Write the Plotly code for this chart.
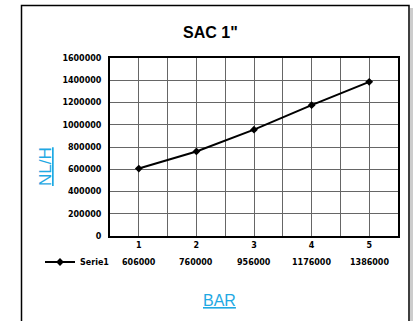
import plotly.graph_objects as go

# data
categories = [1, 2, 3, 4, 5]
serie1 = [606000, 760000, 956000, 1176000, 1386000]
series_name = "Serie1"
y_ticks = [0, 200000, 400000, 600000, 800000, 1000000, 1200000, 1400000, 1600000]

W, H = 419, 321
# plot area in window pixels: x 110..398, y 58..236
L, R, T, B = 110, W - 398, 58, H - 236
pw, ph = W - L - R, H - T - B

def px_x(x):
    return (x - L) / pw

def px_y(y):
    return (H - B - y) / ph

blue = "#1fa9e3"
font_family = "Liberation Sans, Arial, sans-serif"
small = dict(family="DejaVu Sans", size=8, weight="bold", color="black")

fig = go.Figure()
fig.add_trace(go.Scatter(
    x=categories, y=serie1, mode="lines+markers", name=series_name,
    line=dict(color="black", width=2),
    marker=dict(color="black", size=6, symbol="diamond"),
))

fig.update_layout(
    width=W, height=H,
    margin=dict(l=L, r=R, t=T, b=B, autoexpand=False),
    paper_bgcolor="white", plot_bgcolor="white",
    font=dict(family=font_family, color="black"),
    showlegend=True,
    legend=dict(x=px_x(40), y=px_y(262), xanchor="left", yanchor="middle",
                font=small, itemwidth=30,
                bgcolor="rgba(0,0,0,0)", tracegroupgap=0),
    xaxis=dict(range=[0.5, 5.5], tickvals=categories, showgrid=True,
               gridcolor="#666", gridwidth=1,
               minor=dict(tickvals=[0.5, 1.5, 2.5, 3.5, 4.5, 5.5], showgrid=True,
                          gridcolor="#666", gridwidth=1),
               showline=True, linecolor="black", linewidth=2, mirror=True,
               ticks="", tickfont=small, zeroline=False),
    yaxis=dict(range=[0, 1600000], tickvals=y_ticks, showgrid=True,
               gridcolor="#666", gridwidth=1,
               showline=True, linecolor="black", linewidth=2, mirror=True,
               ticks="", ticklabelstandoff=5,
               tickfont=small, zeroline=False,
               tickformat="d"),
)

# value row under the axis
for c, v in zip(categories, serie1):
    fig.add_annotation(x=c, y=px_y(262), xref="x", yref="paper", text=str(v),
                       xanchor="center", yanchor="middle",
                       showarrow=False, font=small)

fig.add_annotation(x=px_x(210), y=px_y(32), xref="paper", yref="paper",
                   xanchor="center", yanchor="middle",
                   text='<b>SAC 1"</b>', showarrow=False, font=dict(size=16))
fig.add_annotation(x=px_x(45), y=px_y(167), xref="paper", yref="paper",
                   xanchor="center", yanchor="middle",
                   text="<u>NL/H</u>", textangle=-90, showarrow=False,
                   font=dict(size=17, color=blue))
fig.add_annotation(x=px_x(219), y=px_y(300), xref="paper", yref="paper",
                   xanchor="center", yanchor="middle",
                   text="<u>BAR</u>", showarrow=False,
                   font=dict(size=16, color=blue))

# outer frame
fig.add_shape(type="rect", xref="paper", yref="paper",
              x0=px_x(21.5), x1=px_x(409), y0=px_y(340), y1=px_y(5.5),
              line=dict(color="black", width=1.5))
fig.add_shape(type="line", xref="paper", yref="paper",
              x0=px_x(411.5), x1=px_x(411.5), y0=px_y(340), y1=px_y(8),
              line=dict(color="#ccc", width=3))

# drop the page's default body margin so the figure sits at the window origin
fig.write_html("out.html", config={"displayModeBar": False},
               post_script="document.body.style.margin='0';")
